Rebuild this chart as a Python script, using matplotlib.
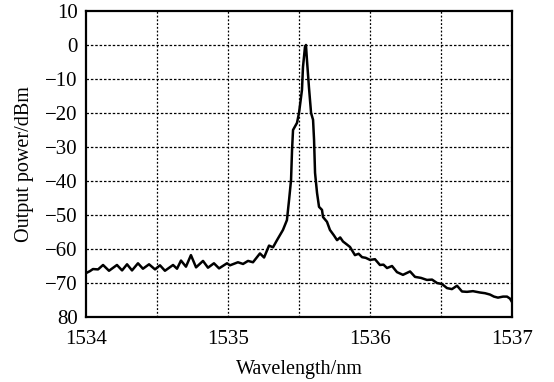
import matplotlib
matplotlib.use("Agg")
import matplotlib.pyplot as plt
from matplotlib.ticker import FixedLocator, FixedFormatter, NullFormatter

wavelength_nm = [
    1534.000, 1534.028, 1534.049, 1534.085, 1534.120, 1534.162, 1534.218, 1534.254,
    1534.289, 1534.324, 1534.366, 1534.401, 1534.444, 1534.486, 1534.521, 1534.556,
    1534.613, 1534.641, 1534.669, 1534.704, 1534.739, 1534.775, 1534.824, 1534.859,
    1534.901, 1534.937, 1534.993, 1535.014, 1535.070, 1535.106, 1535.141, 1535.176,
    1535.225, 1535.254, 1535.289, 1535.317, 1535.345, 1535.387, 1535.415, 1535.430,
    1535.444, 1535.451, 1535.458, 1535.486, 1535.500, 1535.521, 1535.528, 1535.542,
    1535.549, 1535.556, 1535.570, 1535.585, 1535.599, 1535.606, 1535.613, 1535.627,
    1535.641, 1535.662, 1535.669, 1535.697, 1535.718, 1535.746, 1535.768, 1535.790,
    1535.810, 1535.835, 1535.859, 1535.894, 1535.920, 1535.944, 1535.970, 1536.000,
    1536.035, 1536.070, 1536.095, 1536.120, 1536.155, 1536.190, 1536.232, 1536.282,
    1536.317, 1536.359, 1536.401, 1536.437, 1536.472, 1536.507, 1536.542, 1536.577,
    1536.613, 1536.648, 1536.683, 1536.725, 1536.775, 1536.810, 1536.845, 1536.873,
    1536.901, 1536.937, 1536.965, 1536.986, 1537.000,
]

power_dbm = [
    -67.1, -66.5, -65.9, -66.0, -64.7, -66.4, -64.7, -66.3,
    -64.5, -66.3, -64.2, -65.8, -64.5, -66.0, -64.8, -66.4,
    -64.7, -65.8, -63.4, -65.2, -61.8, -65.4, -63.5, -65.5,
    -64.2, -65.7, -64.2, -64.8, -63.9, -64.4, -63.5, -63.9,
    -61.3, -62.5, -59.0, -59.5, -57.4, -54.4, -51.5, -45.6,
    -39.7, -30.9, -25.0, -22.9, -20.0, -13.2, -6.5, -0.6,
    0.0, -4.4, -12.4, -20.0, -22.0, -27.9, -37.6, -43.5,
    -47.6, -48.5, -50.6, -52.0, -54.4, -56.0, -57.4, -56.6,
    -57.8, -58.6, -59.4, -61.8, -61.4, -62.4, -62.6, -63.2,
    -63.0, -64.7, -64.6, -65.6, -65.0, -66.8, -67.6, -66.6,
    -68.2, -68.5, -69.1, -69.0, -70.0, -70.3, -71.5, -71.8,
    -70.8, -72.5, -72.6, -72.4, -72.8, -73.0, -73.4, -74.0,
    -74.3, -74.0, -74.0, -74.6, -75.6,
]

x_ticks = [1534, 1535, 1536, 1537]
x_grid = [1534.5, 1535, 1535.5, 1536, 1536.5]
y_ticks = [10, 0, -10, -20, -30, -40, -50, -60, -70, -80]
y_tick_labels = ["10", "0", "\u221210", "\u221220", "\u221230", "\u221240",
                 "\u221250", "\u221260", "\u221270", "80"]

plt.rcParams["font.family"] = ["Liberation Serif", "DejaVu Serif"]

fig = plt.figure(figsize=(5.54, 3.82), dpi=100)
ax = fig.add_axes([86 / 554, 1 - 317 / 382, (512 - 86) / 554, (317 - 11) / 382])

ax.plot(wavelength_nm, power_dbm, color="black", linewidth=1.8, zorder=3)

ax.set_xlim(1534, 1537)
ax.set_ylim(-80, 10)

ax.xaxis.set_major_locator(FixedLocator(x_ticks))
ax.xaxis.set_minor_locator(FixedLocator(x_grid))
ax.yaxis.set_major_locator(FixedLocator(y_ticks))
ax.yaxis.set_major_formatter(FixedFormatter(y_tick_labels))
ax.xaxis.set_minor_formatter(NullFormatter())

ax.tick_params(which="both", length=0, labelsize=15, colors="black")
ax.tick_params(axis="x", pad=9)
ax.tick_params(axis="y", pad=6)

for xv in x_grid:
    ax.axvline(xv, color="black", linestyle=(0, (1.5, 1.5)), linewidth=0.9, zorder=1)
for yv in y_ticks[1:-1]:
    ax.axhline(yv, color="black", linestyle=(0, (2, 1.5)), linewidth=0.9, zorder=1)

for s in ax.spines.values():
    s.set_linewidth(1.6)
    s.set_color("black")

ax.set_xlabel("Wavelength/nm", fontsize=14.5)
ax.set_ylabel("Output power/dBm", fontsize=14.5)
ax.xaxis.set_label_coords(0.5, (317 - 360) / 306)
ax.yaxis.set_label_coords((34 - 86) / 426, 0.5)

fig.savefig("out.png", dpi=100)
